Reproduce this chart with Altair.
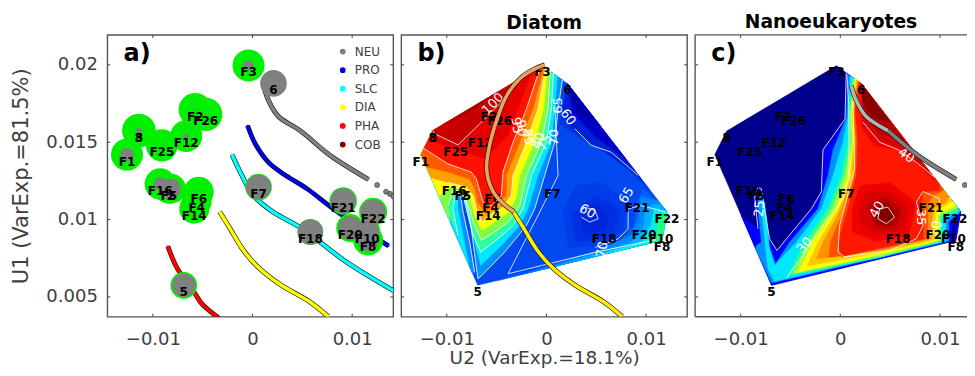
import altair as alt
import pandas as pd

# All coordinates in the lists below are in thousandths of U2 / U1.
X_TICKS = [-0.01, 0, 0.01]
Y_TICKS = [0.005, 0.01, 0.015, 0.02]
X_DOM = [-0.01457, 0.01412]
X_DOM_C = [-0.01457, 0.012716]
Y_DOM = [0.00372, 0.02194]
W, H, W_C = 286, 282, 272

NAMES = ["F1","8","3","F2","F26","F25","F12","F16","F5","2","F6","F4","F14","F3","6","F7","F18","F21","F22","F20","F10","F8","5"]
U2 = [-12.6,-11.4,-11.4,-5.75,-4.7,-9.1,-6.65,-9.26,-8.4,-8.2,-5.4,-5.6,-5.85,-0.4,2.1,0.6,5.8,9.1,12.1,9.8,11.5,11.6,-6.9]
U1 = [14.2,15.75,15.75,17.1,16.8,14.8,15.4,12.3,12.0,12.0,11.8,11.2,10.7,19.96,18.8,12.1,9.2,11.2,10.5,9.45,9.2,8.65,5.75]
GREEN = [1024,1111,1111,1111,1111,1024,1024,980,900,900,900,900,900,1024,0,711,676,750,784,784,700,900,711]
GRAY = [178,28,28,4,2,2,28,178,400,400,0,0,0,100,711,642,642,642,642,576,576,455,545]

S_NEU = [(1.1,18.66),(1.6,17.7),(2.6,16.66),(4.78,15.75),(7.8,14.14),(11.64,12.59)]
S_NEU_DOTS = [(12.5,12.24),(13.4,11.8),(13.8,11.66),(14.15,11.5)]
S_PRO = [(-0.5,16.08),(0.27,14.9),(1.6,13.7),(3.1,12.95),(5.45,12.0),(8.1,10.7),(11.5,9.18),(13.65,8.3)]
S_SLC = [(-2.07,14.2),(-1.07,12.85),(0.1,11.55),(2.1,10.47),(4.78,9.5),(9.46,7.24),(14.15,5.4)]
S_DIA = [(-3.3,10.5),(-2.24,9.4),(-0.9,8.0),(0.6,6.9),(2.78,5.8),(5.8,4.66),(7.6,3.73)]
S_PHA = [(-8.5,8.28),(-7.6,6.9),(-5.75,5.2),(-5.08,4.55),(-3.4,3.64)]
S_ORANGE = [(-0.17,20),(-1.17,19.74),(-2.5,19.2),(-4.0,18.0),(-5.0,16.4),(-5.7,14.8),(-6.0,13.3),(-5.5,12.0),(-4.5,11.13),(-3.25,10.5)]
SERIES = ["NEU","PRO","SLC","DIA","PHA","COB"]
SERIES_COL = ["#808080","#0000e6","#00ffff","#ffff00","#ff0000","#8b0000"]

OUTER = [(-0.4,19.96),(2.1,18.8),(12.1,10.5),(11.6,8.65),(-6.9,5.75),(-12.6,14.2),(-11.4,15.75)]

# panel b: (colour, interior boundary, vertices closing along the rim, white contour?)
B_RIGHT = [
 ("#003ce8",[(1.6,10.6),(3,12.2),(5.5,12.4),(8.2,11.2),(7.6,9.2),(5,8.3),(2.2,8.2)]),
 ("#0030e2",[(2.5,10.3),(4.9,11.6),(7.5,10.6),(6.7,9),(3,8.5)]),
 ("#0026dc",[(3.3,10.3),(4.9,11.1),(6.4,10.4),(5.8,9.3),(3.8,9.1)]),
 ("#0034e4",[(2.1,18.8),(10.4,11.9),(7,14),(3.6,15.2),(1.3,16.2)]),
 ("#0020d8",[(2.1,18.8),(9.5,12.66),(6,14.3),(3,15.6),(1.5,16.8)]),
 ("#0000c8",[(2.1,18.8),(8,13.9),(5,15.3),(2.6,16.9)]),
 ("#0000a8",[(2.1,18.8),(5.5,16),(3,16.9)]),
 ("#0060ff",[(-5,6.03),(3,7.6),(7,8.4),(8.8,9.6),(9,11),(9.7,12),(11.2,11.2),(12.1,10.5),(11.6,8.65)]),
 ("#0088ff",[(-2,6.5),(5,7.95),(8.5,9),(9.2,10),(9.5,11.5),(11.2,11.2),(12.1,10.5),(11.6,8.65)]),
 ("#00b0ff",[(1,6.99),(5,7.8),(8.5,8.55),(9.7,9.5),(10,10.8),(11.4,11.05),(12.1,10.5),(11.6,8.65)]),
 ("#00f0e0",[(5,7.62),(9.6,8.6),(10.5,9.6),(10.8,10.7),(12.1,10.5),(11.6,8.65)]),
 ("#20ff80",[(10.5,8.48),(11.1,9.3),(11.2,10.2),(12.1,10.5),(11.6,8.65)]),
]
B_LEVELS = [
 ("#0090ff",[(1.6,19.03),(1.17,17.16),(0.84,15.0),(-0.17,12.85),(-1.17,10.7),(-2.0,9.62),(-4.19,7.9),(-6.47,6.4),(-6.87,6.18),(-7.1,7.25),(-7.54,9.4),(-8.04,11.35),(-8.37,12.1),(-8.7,12),(-8.37,10.48),(-7.7,8.54),(-7.2,6.6)],[(-7.41,6.5),(-12.6,14.2),(-11.4,15.75),(-0.4,19.96)],True),
 ("#00e8ff",[(1.1,19.27),(0.84,17.16),(0.5,15),(-0.84,12.85),(-1.84,10.7),(-2.68,9.62),(-4.5,8.33),(-6.6,7.04),(-7.2,8.54),(-7.6,10.27),(-8.04,11.56),(-8.37,12.03),(-8.88,11.9),(-8.88,10.7),(-8.37,9),(-8.04,7.9)],[(-7.74,7),(-12.6,14.2),(-11.4,15.75),(-0.4,19.96)],False),
 ("#30ffa0",[(0.7,19.46),(0.5,17.16),(0,15),(-1.5,12.85),(-2.35,10.7),(-3.35,9.62),(-4.86,8.76),(-6.6,7.9),(-7.37,9),(-7.87,10.27),(-8.37,11.56),(-9.05,11.9),(-9.38,10.7),(-8.88,9)],[(-8.3,8.3),(-12.6,14.2),(-11.4,15.75),(-0.4,19.96)],True),
 ("#80ff40",[(0.4,19.6),(0.17,17.16),(-0.5,15),(-2,12.85),(-2.68,10.9),(-3.85,9.84),(-5.19,9.2),(-6.53,8.65),(-7.37,9.84),(-7.7,10.7),(-8.37,11.56),(-9.38,11.9),(-9.88,10.9)],[(-9.7,9.9),(-12.6,14.2),(-11.4,15.75),(-0.4,19.96)],True),
 ("#ffff00",[(0.1,19.75),(-0.27,17.16),(-1.17,15),(-2.68,12.85),(-3.0,11.56),(-3.68,10.5),(-5.19,9.84),(-6.47,9.3),(-7.2,10.27),(-7.54,11.1),(-8.2,11.9),(-9.55,12.1)],[(-10.75,11.5),(-12.6,14.2),(-11.4,15.75),(-0.4,19.96)],False),
 ("#ffa000",[(-0.1,19.85),(-0.84,17.16),(-2,15),(-3.35,12.85),(-3.52,11.56),(-4.5,10.7),(-5.86,10.27),(-6.47,9.84),(-7.03,10.7),(-7.37,11.56),(-8.04,12.1),(-9.88,12.4)],[(-11.6,12.7),(-12.6,14.2),(-11.4,15.75),(-0.4,19.96)],True),
 ("#ff5a00",[(-0.25,19.9),(-1.34,17.16),(-2.68,15),(-4.02,12.85),(-4.02,11.56),(-5.19,10.9),(-6.2,10.5),(-6.87,11.1),(-7.2,12),(-7.7,12.6),(-9.88,13.07)],[(-12.06,13.4),(-12.6,14.2),(-11.4,15.75),(-0.4,19.96)],False),
 ("#ff1000",[(-0.6,19.88),(-2,17.16),(-3.35,15),(-4.36,13.07),(-4.52,11.56),(-5.5,10.9),(-6.36,11.1),(-7.03,12.63),(-7.54,13.07),(-9.88,13.6),(-11.2,14.14),(-12.3,14.6)],[(-11.4,15.75),(-0.6,19.88)],True),
 ("#e60000",[(-1.5,19.54),(-2.85,17.16),(-3.85,15.44),(-6.2,13.93),(-8.54,14.47),(-11.2,15),(-11.8,15.2)],[(-11.4,15.75),(-1.5,19.54)],False),
 ("#c80000",[(-3,18.96),(-4.19,17.8),(-7.2,15.87),(-8.88,14.83),(-11.2,15.54),(-11.4,15.75)],[(-3,18.96)],True),
 ("#aa0000",[(-5,18.2),(-7.2,17.16),(-10.2,16.2),(-10.4,16.13)],[(-5,18.2)],False),
]
B_CONTOURS = [
 [(2.85,15.87),(4.5,14.8),(6.5,14.36),(9.2,12.86)],
 [(12,10.5),(9.5,10.9),(8.2,10.7),(8.2,9.4),(7.2,8.76),(4.9,8.2)],
 [(0.84,17.4),(1.17,12.85),(-0.84,10.27),(-3.85,6.5),(5,7.9),(11,8.7)],
 [(3.35,10.48),(3.85,10.8),(4.86,10.6),(5.2,10.05),(4.35,9.84),(3.5,10.16)],
]
B_LABELS = [("100",-5.36,17.48,315),("60",2.18,16.62,55),("65",1.17,17.37,270),("70",0.77,15.33,270),("95",-3.0,16.08,80),
            ("90",-2.5,15.9,80),("85",-1.84,15.33,80),("80",-0.84,15.1,300),("75",-0.17,15,300),("60",4.12,10.53,30),("65",8.04,11.56,300),("70",5.6,8.07,280)]

# panel c
C_LEVELS = [
 ("#0000ff",[(0.6,19.5),(0.47,16.5),(-1.74,14.5),(-1.9,11.8),(-2.9,10.7),(-5.4,8.76),(-6.35,8.0),(-7.1,8.76),(-7.6,10.7),(-7.93,12),(-8.26,12.1),(-8.6,11.56),(-8.26,9.4)],[(-9.95,10.27),(-6.9,5.75),(11.6,8.65),(12.1,10.5),(2.1,18.8)],True),
 ("#0090ff",[(0.8,19.4),(0.6,16.6),(-0.74,14.5),(-1.24,12.85),(-2.24,10.7),(-5.08,8.54),(-6.5,7.15),(-7.26,8.54),(-7.5,10.27),(-7.76,11.56),(-8.26,11.66),(-8.26,10.7),(-7.93,8.54),(-8.43,8.33)],[(-8.5,8.1),(-6.9,5.9),(10.9,8.6),(10.9,9.9),(12.1,10.5),(2.1,18.8)],False),
 ("#00e8ff",[(1.0,19.3),(0.75,16.6),(0.27,15),(-0.74,12.85),(-1.9,10.7),(-4.41,8.54),(-6.6,7.04),(-7.1,8.1),(-7.36,9.84),(-7.6,11.1),(-7.93,11.2),(-7.76,9.84),(-7.5,8.1),(-7.26,6.8)],[(-6.6,6.0),(10.6,8.6),(10.6,10.1),(11.9,10.4),(2.1,18.8)],False),
 ("#30ff90",[(1.2,19.2),(0.9,16.7),(0.77,15),(0.1,12.85),(-1.24,10.7),(-3.58,8.54),(-5.25,6.39)],[(4,7.55),(10.2,8.6),(10.2,10.2),(12.0,10.55),(2.1,18.8)],False),
 ("#a0ff40",[(1.35,19.15),(1.0,16.75),(1.05,15),(0.45,12.85),(-0.85,10.7),(-3.15,8.54),(-4.75,6.5)],[(4,7.65),(10,8.62),(10,10.3),(11.8,10.75),(2.1,18.8)],False),
 ("#ffff00",[(1.5,19.1),(1.1,16.8),(1.27,15),(0.77,12.85),(-0.4,10.7),(-2.74,8.54),(-4.25,6.6)],[(4,7.75),(9.8,8.65),(9.8,10.37),(11.6,10.9),(2.1,18.8)],False),
 ("#ffc800",[(1.6,19.05),(1.2,16.85),(1.35,15),(1.0,12.85),(-0.15,10.7),(-2.25,8.54),(-3.3,7.0)],[(4,7.87),(9.45,8.7),(9.55,10.5),(11.2,11.2),(2.1,18.8)],False),
 ("#ff9000",[(1.7,19.0),(1.3,16.9),(1.44,15),(1.27,12.85),(0.1,10.7),(-1.74,8.54),(-2.4,7.47)],[(4,8),(9.1,8.75),(9.3,10.7),(10.6,11.1),(10.9,11.5),(2.1,18.8)],False),
 ("#ff5000",[(1.8,18.95),(1.4,17),(1.6,15),(1.45,12.85),(0.45,10.7),(-1.0,8.54),(-1.15,7.55)],[(4.5,8.15),(8.7,8.75),(8.8,9.9),(8.7,11),(9.5,11.6),(10.4,11.9),(2.1,18.8)],False),
 ("#ff1800",[(1.9,18.9),(1.5,17.1),(1.77,15),(1.6,12.85),(0.77,10.7),(-0.23,8.54),(0.1,7.6)],[(5,8.3),(8.3,8.76),(8.3,9.84),(8,10.7),(8.3,11.77),(10,11.9),(10,12.24),(2.1,18.8)],False),
]
C_BLOBS = [
 ("#f00000",[(2.1,18.8),(9.8,12.4),(6.3,14.4),(3.4,14.8),(2.1,16)]),
 ("#d80000",[(2.1,18.8),(9.2,12.9),(6,14.7),(3.7,15.1),(2.3,16.3)]),
 ("#b40000",[(2.1,18.8),(6.5,15.1),(3.8,15.6),(2.3,17)]),
 ("#880000",[(2.1,18.8),(5,16.3),(3.2,16.6),(2.2,17.7)]),
 ("#f00000",[(1.2,10.7),(2,12.2),(5,12.4),(7.6,11.1),(6.9,9),(3.6,8.6),(1.2,9.2)]),
 ("#d80000",[(1.9,10.7),(2.6,11.8),(5,11.8),(7,10.85),(6.4,9.3),(3.6,9.1),(1.9,9.8)]),
 ("#b80000",[(2.7,10.9),(4.5,11.5),(6.2,10.6),(5.5,9.4),(3.5,9.5)]),
 ("#980000",[(3.4,10.8),(4.8,11.1),(5.7,10.3),(4.9,9.6),(3.6,9.85)]),
 ("#800000",[(3.95,10.7),(4.95,10.8),(5.45,10.16),(4.62,9.73),(3.78,10.05)]),
 ("#0000a0",[(11.4,10.2),(11.7,9.9),(11.55,8.95),(11.15,8.85)]),
]
C_CONTOURS = [
 [(-5.42,6.18),(-3.75,7.68),(-1.74,9.62),(0.27,11.34),(0.87,12.64),(0.87,17.16),(0.67,19.4)],
 [(1.27,17.6),(1.44,13.28),(-0.07,9.62),(-0.23,7.9),(0.43,7.58),(4.95,8.0),(7.63,8.76),(8.3,9.62),(7.63,11.13),(8.3,11.82),(9.97,11.34),(9.97,10.27)],
 [(2.27,16.3),(3.95,15),(5.95,14.47),(7.63,13.7),(9.46,12.74)],
 [(3.95,10.7),(4.78,10.8),(5.45,10.16),(4.62,9.73),(3.78,10.05),(3.95,10.7)],
]
C_LABELS = [("30",-3.58,8.33,310),("40",6.62,14.14,35),("40",3.68,10.65,300),("35",8.13,10.16,90),("25",-8.1,10.7,275),("20",9.63,9.4,280)]

DARK = "#404040"
FONT = "DejaVu Sans"
CURVE = "catmull-rom"


def path_df(paths):
    rows = []
    for pid, (col, pts) in enumerate(paths):
        for i, (x, y) in enumerate(pts):
            rows.append({"pid": f"p{pid:03d}", "c": col, "i": i, "x": x * 1e-3, "y": y * 1e-3})
    return pd.DataFrame(rows)


XS = alt.Scale(domain=X_DOM, nice=False, zero=False)
YS = alt.Scale(domain=Y_DOM, nice=False, zero=False)
XQ = alt.X("x:Q", scale=XS)
YQ = alt.Y("y:Q", scale=YS)


def fills(paths):
    return alt.Chart(path_df(paths)).mark_line(strokeWidth=0.4, clip=True).encode(
        x=XQ, y=YQ, order="i:Q", detail="pid:N",
        fill=alt.Fill("c:N", scale=None), stroke=alt.Stroke("c:N", scale=None))


def whites(paths):
    return alt.Chart(path_df([("w", p) for p in paths])).mark_line(color="white", strokeWidth=0.8, clip=True).encode(
        x=XQ, y=YQ, order="i:Q", detail="pid:N")


def stroke_line(pts, col, w=3.6):
    d = path_df([(col, pts)])
    return (alt.Chart(d).mark_line(color="#151515", strokeWidth=w + 1.2, clip=True, interpolate=CURVE).encode(x=XQ, y=YQ, order="i:Q")
            + alt.Chart(d).mark_line(color=col, strokeWidth=w, clip=True, interpolate=CURVE).encode(x=XQ, y=YQ, order="i:Q"))


def dots(pts, col):
    return alt.Chart(path_df([(col, pts)])).mark_circle(size=26, color=col, opacity=1, stroke="#222222", strokeWidth=0.5, clip=True).encode(x=XQ, y=YQ)


def ticks(right=True):
    xd = pd.DataFrame({"x": X_TICKS})
    yd = pd.DataFrame({"y": Y_TICKS})
    c = alt.Chart(xd).mark_rule(color=DARK, strokeWidth=1)
    r = alt.Chart(yd).mark_rule(color=DARK, strokeWidth=1)
    out = (c.encode(x=XQ, y=alt.value(H), y2=alt.value(H - 3))
           + c.encode(x=XQ, y=alt.value(0), y2=alt.value(3))
           + r.encode(y=YQ, x=alt.value(0), x2=alt.value(3)))
    if right:
        out = out + r.encode(y=YQ, x=alt.value(W), x2=alt.value(W - 3))
    return out


def axes(show_y, x_title):
    kw = dict(title=x_title) if x_title else dict(title=None)
    x_axis = alt.Axis(values=X_TICKS, labelExpr="datum.value === 0 ? '0' : format(datum.value, '.2~f')", ticks=False, domain=False, grid=False,
                      labelFontSize=18, labelColor=DARK, labelFont=FONT, labelPadding=13.5,
                      titleFontSize=18.5, titleFontWeight="normal", titleColor=DARK, titleFont=FONT, titlePadding=0, **kw)
    if show_y:
        y_axis = alt.Axis(values=Y_TICKS, labelExpr="format(datum.value, '.3~f')", ticks=False, domain=False, grid=False,
                          labelFontSize=18, labelColor=DARK, labelFont=FONT, labelPadding=10,
                          title="U1 (VarExp.=81.5%)", titleFontSize=21, titleFontWeight="normal", titleColor=DARK, titleFont=FONT, titlePadding=14)
    else:
        y_axis = alt.Axis(values=Y_TICKS, labels=False, ticks=False, domain=False, grid=False, title=None, labelPadding=0, minExtent=0, maxExtent=0)
    d = pd.DataFrame({"x": X_TICKS[:1], "y": Y_TICKS[:1]})
    return alt.Chart(d).mark_point(opacity=0).encode(x=alt.X("x:Q", scale=XS, axis=x_axis), y=alt.Y("y:Q", scale=YS, axis=y_axis))


def labels(shift=None):
    shift = shift or {}
    d = pd.DataFrame({"x": [(v + shift.get(n, 0)) * 1e-3 for v, n in zip(U2, NAMES)], "y": [v * 1e-3 for v in U1], "t": NAMES})
    return alt.Chart(d).mark_text(fontSize=12, fontWeight="bold", font=FONT, color="black", dy=7, clip=True).encode(x=XQ, y=YQ, text="t:N")


def letter(t, xv, yv):
    d = pd.DataFrame({"x": [xv], "y": [yv], "t": [t]})
    return alt.Chart(d).mark_text(fontSize=24, fontWeight="bold", font=FONT, color="black", align="left").encode(x=XQ, y=YQ, text="t:N")


def contour_text(rows):
    d = pd.DataFrame(rows, columns=["t", "x", "y", "a"])
    d["x"] *= 1e-3
    d["y"] *= 1e-3
    return alt.Chart(d).mark_text(fontSize=13, font=FONT, color="white").encode(x=XQ, y=YQ, text="t:N", angle=alt.Angle("a:Q", scale=None))


def title(t):
    return alt.TitleParams(t, fontSize=18.7, font=FONT, fontWeight="bold", color="black", offset=2)


# ----- panel a
pts = pd.DataFrame({"x": [v * 1e-3 for v in U2], "y": [v * 1e-3 for v in U1], "g": GREEN, "k": GRAY})
rows = []
for nm, lst in zip(SERIES[:5], [S_NEU, S_PRO, S_SLC, S_DIA, S_PHA]):
    for i, (x, y) in enumerate(lst):
        rows.append({"series": nm, "i": i, "x": x * 1e-3, "y": y * 1e-3})
series_df = pd.DataFrame(rows)
CS = alt.Scale(domain=SERIES, range=SERIES_COL)
black_lines = alt.Chart(series_df).mark_line(color="#151515", strokeWidth=4.8, clip=True, interpolate=CURVE).encode(x=XQ, y=YQ, order="i:Q", detail="series:N")
col_lines = alt.Chart(series_df).mark_line(strokeWidth=3.6, clip=True, interpolate=CURVE).encode(x=XQ, y=YQ, order="i:Q", color=alt.Color("series:N", scale=CS))
leg_pts = alt.Chart(series_df).mark_circle(size=3, opacity=1, clip=True).encode(
    x=XQ, y=YQ,
    color=alt.Color("series:N", scale=CS, sort=SERIES, legend=alt.Legend(
        orient="none", legendX=229.5, legendY=10.7, title=None, labelFontSize=12, labelFont=FONT, labelColor=DARK,
        symbolSize=18, symbolType="circle", rowPadding=6.6, labelOffset=6, values=SERIES)))
green = alt.Chart(pts).mark_circle(color="#00f000", opacity=1, clip=True).encode(x=XQ, y=YQ, size=alt.Size("g:Q", scale=None))
gray = alt.Chart(pts).mark_circle(color="#808080", opacity=1, clip=True).encode(x=XQ, y=YQ, size=alt.Size("k:Q", scale=None))
panel_a = alt.layer(axes(True, None), black_lines, col_lines, leg_pts, dots(S_NEU_DOTS, "#808080"), green, gray, labels(), letter("a)", -0.01295, 0.0207), ticks()).properties(width=W, height=H)

# ----- panel b
b_polys = [("#0048f0", OUTER)] + B_RIGHT + [(c, bd + cl) for c, bd, cl, _ in B_LEVELS]
panel_b = alt.layer(axes(False, "U2 (VarExp.=18.1%)"), fills(b_polys), whites(B_CONTOURS + [bd for c, bd, cl, w in B_LEVELS if w]), contour_text(B_LABELS), labels(),
                    stroke_line(S_DIA, "#ffee00"), stroke_line(S_ORANGE, "#eda35f"), letter("b)", -0.01295, 0.0207), ticks()).properties(
    width=W, height=H, title=title("Diatom"))

# ----- panel c (its right edge runs off the picture)
XS = alt.Scale(domain=X_DOM_C, nice=False, zero=False)
XQ = alt.X("x:Q", scale=XS)
c_polys = [("#00008c", OUTER)] + [(c, bd + cl) for c, bd, cl, _ in C_LEVELS] + C_BLOBS
one = pd.DataFrame({"a": [0]})
frame = alt.Chart(one).mark_rule(color="#555555", strokeWidth=1.4)
frame_c = (frame.encode(x=alt.value(0), y=alt.value(0), y2=alt.value(H))
           + frame.encode(y=alt.value(0), x=alt.value(0), x2=alt.value(W_C))
           + frame.encode(y=alt.value(H), x=alt.value(0), x2=alt.value(W_C)))
panel_c = alt.layer(axes(False, None), fills(c_polys), whites(C_CONTOURS + [C_LEVELS[0][1]]), contour_text(C_LABELS), labels({"F22": -0.6, "F10": -0.15}),
                    stroke_line(S_NEU[3:], "#808080"), stroke_line(S_NEU[:4], "#b4b4b4"), dots(S_NEU_DOTS, "#808080"), letter("c)", -0.01295, 0.0207), ticks(False), frame_c).properties(
    width=W_C, height=H, title=title("Nanoeukaryotes"), view=alt.ViewConfig(stroke="transparent"))

chart = alt.hconcat(panel_a, panel_b, panel_c, spacing=4).configure_view(stroke="#555555", strokeWidth=1.4)
chart = chart.properties(background="white", padding={"left": 1.4, "top": 3.8, "right": -2, "bottom": 0})
chart.save("out.html", embed_options={"renderer": "svg", "actions": False})
